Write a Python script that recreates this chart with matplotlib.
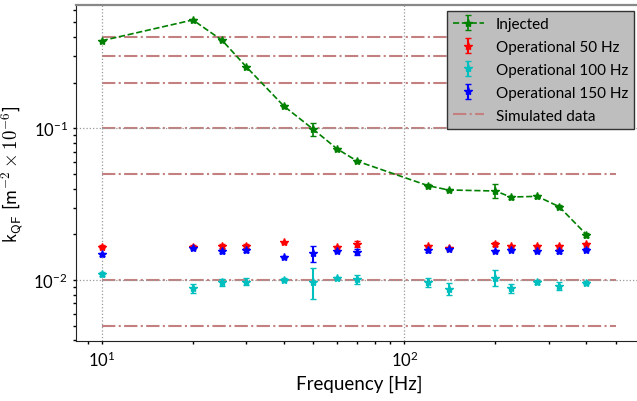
import matplotlib
matplotlib.use("Agg")
import matplotlib.pyplot as plt

plt.rcParams['mathtext.fontset'] = 'cm'
plt.rcParams['font.family'] = ['Lato', 'DejaVu Sans']

# ---- data ----
freq_inj = [10, 20, 25, 30, 40, 50, 60, 70, 120, 140, 200, 225, 275, 325, 400]
k_inj = [0.378, 0.518, 0.380, 0.255, 0.140, 0.0985, 0.0731, 0.0606, 0.0418,
         0.0392, 0.0386, 0.0352, 0.0356, 0.0304, 0.0199]
k_inj_err = [0.004, 0.005, 0.004, 0.003, 0.002, 0.010, 0.001, 0.001, 0.0008,
             0.0008, 0.004, 0.0008, 0.0008, 0.0008, 0.0006]

freq_op50 = [10, 20, 25, 30, 40, 60, 70, 120, 140, 200, 225, 275, 325, 400]
k_op50 = [0.01658, 0.0166, 0.01668, 0.01683, 0.01772, 0.0165, 0.01727, 0.01683,
          0.01625, 0.01727, 0.01675, 0.01683, 0.01668, 0.01735]
k_op50_err = [0.0003, 0.0003, 0.0005, 0.0005, 0.0002, 0.0003, 0.0008, 0.0003,
              0.0003, 0.0004, 0.0003, 0.0003, 0.0003, 0.0003]

freq_op100 = [10, 20, 25, 30, 40, 50, 60, 70, 120, 140, 200, 225, 275, 325, 400]
k_op100 = [0.01095, 0.00886, 0.00966, 0.00975, 0.01005, 0.00975, 0.01031, 0.01015,
           0.00966, 0.00872, 0.01035, 0.00886, 0.00975, 0.00913, 0.0096]
k_op100_err = [0.0004, 0.0006, 0.0005, 0.0005, 0.0002, 0.0023, 0.0002, 0.0007,
               0.0007, 0.0008, 0.0012, 0.0006, 0.0003, 0.0005, 0.0002]

freq_op150 = [10, 20, 25, 30, 40, 50, 60, 70, 120, 140, 200, 225, 275, 325, 400]
k_op150 = [0.01477, 0.01625, 0.0156, 0.01577, 0.01418, 0.0150, 0.01553, 0.01522,
           0.0157, 0.0160, 0.01553, 0.01584, 0.01553, 0.01553, 0.01584]
k_op150_err = [0.0003, 0.0003, 0.0005, 0.0005, 0.0003, 0.0018, 0.0003, 0.0007,
               0.0004, 0.0003, 0.0003, 0.0003, 0.0003, 0.0005, 0.0003]

sim_freq = [10, 500]
sim_levels = [0.4, 0.3, 0.2, 0.1, 0.05, 0.01, 0.005]

series_labels = ['Injected', 'Operational 50 Hz', 'Operational 100 Hz',
                 'Operational 150 Hz', 'Simulated data']

# ---- figure ----
fig = plt.figure(figsize=(6.37, 4.02), dpi=100)
ax = fig.add_axes([76/637, 59.7/402, (641.5-76)/637, (342.3-5.7)/402])

sim_color = (0.77, 0.5, 0.5)
for i, lv in enumerate(sim_levels):
    ax.plot(sim_freq, [lv, lv], linestyle='-.', color=sim_color, lw=1.5,
            zorder=1, label=series_labels[4] if i == 0 else None)

ms = 6
ax.errorbar(freq_inj, k_inj, yerr=k_inj_err, fmt='*--', color='green',
            ms=ms, capsize=2, lw=1.2, label=series_labels[0], zorder=3)
ax.errorbar(freq_op50, k_op50, yerr=k_op50_err, fmt='*', color='red',
            ms=ms, capsize=2, label=series_labels[1], zorder=3)
ax.errorbar(freq_op100, k_op100, yerr=k_op100_err, fmt='*', color='c',
            ms=ms, capsize=2, label=series_labels[2], zorder=3)
ax.errorbar(freq_op150, k_op150, yerr=k_op150_err, fmt='*', color='blue',
            ms=ms, capsize=2, label=series_labels[3], zorder=3)

ax.set_xscale('log')
ax.set_yscale('log')
ax.set_xlim(8.22, 608)
ax.set_ylim(0.00394, 0.653)

ax.grid(True, which='major', linestyle=':', color='#999999', lw=0.9, zorder=0)
ax.tick_params(which='both', direction='out', length=2.5, width=1, labelsize=12)
ax.tick_params(which='minor', length=2)
for s in ['left', 'bottom']:
    ax.spines[s].set_color('#222222')
ax.spines['top'].set_color('#888888')
ax.spines['top'].set_linewidth(1.6)

ax.set_xlabel('Frequency [Hz]', fontsize=13.5)
ax.set_ylabel(r'$\mathsf{k}_{\mathsf{QF}}$ [$\mathsf{m}^{-2}\times 10^{-6}$]',
              fontsize=13.5, labelpad=6)

h, l = ax.get_legend_handles_labels()
order = [1, 2, 3, 4, 0]
leg = ax.legend([h[i] for i in order], [l[i] for i in order],
                loc='upper left',
                bbox_to_anchor=((447-76)/(641.5-76), 1 - (12-5.7)/336.6),
                fontsize=11, fancybox=False, framealpha=1,
                facecolor='#bebebe', edgecolor='#333333', borderaxespad=0,
                handlelength=2.0, labelspacing=0.58, borderpad=0.4)

fig.savefig('out.png', dpi=100)
